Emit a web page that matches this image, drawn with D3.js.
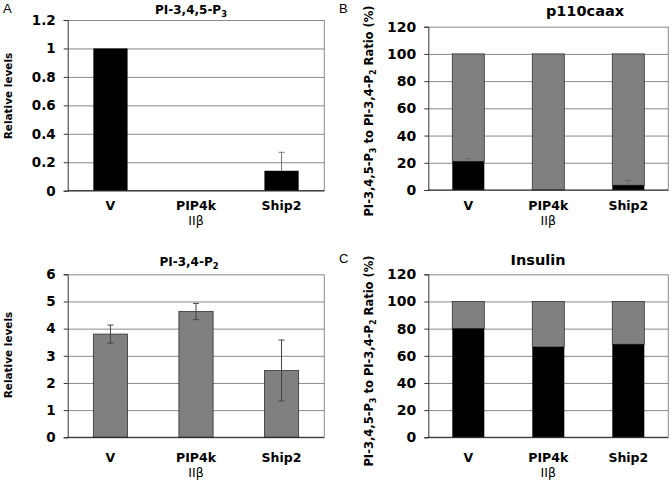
<!DOCTYPE html>
<html><head><meta charset="utf-8">
<script src="https://cdn.jsdelivr.net/npm/d3@7"></script>
<style>
body{margin:0;background:#fff;}
svg{display:block;font-family:"DejaVu Sans",sans-serif;}
</style></head>
<body><svg id="c" width="672" height="485"></svg>
<script>
const categories = ["V", "PIP4k", "Ship2"];
const categorySub = ["", "IIβ", ""];
const pip3Levels = [1.0, 0, 0.14];
const pip3Err = [0, 0, 0.13];
const pip2Levels = [3.8, 4.63, 2.46];
const pip2Err = [0.33, 0.3, 1.12];
const p110Pip3Pct = [21, 0, 3.5];
const p110Err = [2, 0, 3.5];
const insulinPip3Pct = [80, 66.5, 68.5];
const totalPct = [100, 100, 100];
const ticksLevelsA = [0, 0.2, 0.4, 0.6, 0.8, 1, 1.2];
const ticksLevelsB = [0, 1, 2, 3, 4, 5, 6];
const ticksPct = [0, 20, 40, 60, 80, 100, 120];

const svg = d3.select("#c");

function panel(o){
  const g = svg.append("g");
  const x = d3.scaleBand().domain(categories).range([o.x0, o.x1]).paddingInner(0.6).paddingOuter(0.3);
  const y = d3.scaleLinear().domain([0, o.max]).range([o.y1, o.y0]);
  g.append("g").attr("transform", `translate(${o.x0},0)`)
    .call(d3.axisLeft(y).tickValues(o.ticks).tickSize(-(o.x1 - o.x0)).tickFormat(""))
    .call(a => a.select(".domain").remove())
    .call(a => a.selectAll("line").attr("stroke", "#8a8a8a").attr("stroke-width", 1));
  g.append("line").attr("x1", o.x1).attr("x2", o.x1).attr("y1", y(o.max)).attr("y2", y(0)).attr("stroke", "#8a8a8a");
  if (o.stacked) {
    g.selectAll(".gb").data(categories).join("rect")
      .attr("x", d => x(d)).attr("width", x.bandwidth())
      .attr("y", (d, i) => y(o.total[i])).attr("height", (d, i) => y(o.values[i]) - y(o.total[i]))
      .attr("fill", "#808080").attr("stroke", "#333").attr("stroke-width", 0.8);
    g.selectAll(".bb").data(categories).join("rect")
      .attr("x", d => x(d)).attr("width", x.bandwidth())
      .attr("y", (d, i) => y(o.values[i])).attr("height", (d, i) => y(0) - y(o.values[i]))
      .attr("fill", "#000");
  } else {
    g.selectAll(".b").data(categories).join("rect")
      .attr("x", d => x(d)).attr("width", x.bandwidth())
      .attr("y", (d, i) => y(o.values[i])).attr("height", (d, i) => y(0) - y(o.values[i]))
      .attr("fill", o.fill).attr("stroke", o.fill === "#000" ? "none" : "#333").attr("stroke-width", 0.8);
  }
  if (o.err) {
    categories.forEach((c, i) => {
      const e = o.err[i]; if (!e) return;
      const cx = x(c) + x.bandwidth() / 2;
      const lo = o.both ? o.values[i] - e : o.values[i];
      const hi = o.values[i] + e;
      g.append("line").attr("x1", cx).attr("x2", cx).attr("y1", y(lo)).attr("y2", y(hi)).attr("stroke", o.errColor).attr("stroke-width", 1);
      g.append("line").attr("x1", cx - 3).attr("x2", cx + 3).attr("y1", y(hi)).attr("y2", y(hi)).attr("stroke", o.errColor);
      if (o.both) g.append("line").attr("x1", cx - 3).attr("x2", cx + 3).attr("y1", y(lo)).attr("y2", y(lo)).attr("stroke", o.errColor);
    });
  }
  g.append("g").attr("transform", `translate(${o.x0},0)`)
    .call(d3.axisLeft(y).tickValues(o.ticks).tickSize(4).tickPadding(8).tickFormat(d3.format("~g")))
    .call(a => a.select(".domain").attr("stroke", "#333"))
    .call(a => a.selectAll("line").attr("stroke", "#333"))
    .call(a => a.selectAll("text").attr("font-family", "DejaVu Sans").attr("font-weight", "bold").attr("font-size", o.tickFont).attr("fill", "#000"));
  g.append("line").attr("x1", o.x0).attr("x2", o.x1).attr("y1", y(0)).attr("y2", y(0)).attr("stroke", "#222");
  g.selectAll(".cl").data(categories).join("text")
    .attr("x", d => x(d) + x.bandwidth() / 2).attr("y", y(0) + o.catDy)
    .attr("text-anchor", "middle").attr("font-weight", "bold").attr("font-size", 12.5).text(d => d);
  g.selectAll(".cs").data(categorySub).join("text")
    .attr("x", (d, i) => x(categories[i]) + x.bandwidth() / 2).attr("y", y(0) + o.catDy + 15)
    .attr("text-anchor", "middle").attr("font-size", 12.5).text(d => d);
  const t = g.append("text").attr("x", o.tx).attr("y", o.ty).attr("text-anchor", "middle")
    .attr("font-weight", "bold").attr("font-size", o.titleFont);
  o.title.forEach(p => {
    const s = t.append("tspan").text(p[0]);
    if (p[1]) s.attr("font-size", o.titleFont * 0.7).attr("dy", 3);
    else if (p[2]) s.attr("dy", -3);
  });
  const yl = g.append("text").attr("transform", `translate(${o.lx},${o.ly}) rotate(-90)`)
    .attr("text-anchor", "middle").attr("font-weight", "bold").attr("font-size", o.labelFont);
  o.ylabel.forEach(p => {
    const s = yl.append("tspan").text(p[0]);
    if (p[1]) s.attr("font-size", o.labelFont * 0.7).attr("dy", 3);
    else if (p[2]) s.attr("dy", -3);
  });
}

const ratioLabel = [["PI-3,4,5-P"], ["3", true], [" to PI-3,4-P", false, true], ["2", true], [" Ratio (%)", false, true]];

panel({x0: 67.7, x1: 324.3, y0: 20, y1: 190.7, max: 1.2, ticks: ticksLevelsA, values: pip3Levels, err: pip3Err,
  both: false, errColor: "#777", fill: "#000", tickFont: 13.5, catDy: 19,
  title: [["PI-3,4,5-P"], ["3", true]], tx: 191, ty: 14, titleFont: 12,
  ylabel: [["Relative levels"]], lx: 12, ly: 96, labelFont: 10.5});

panel({x0: 67.7, x1: 324.3, y0: 274.3, y1: 437.3, max: 6, ticks: ticksLevelsB, values: pip2Levels, err: pip2Err,
  both: true, errColor: "#444", fill: "#808080", tickFont: 13.5, catDy: 25,
  title: [["PI-3,4-P"], ["2", true]], tx: 189, ty: 266, titleFont: 12,
  ylabel: [["Relative levels"]], lx: 12, ly: 355, labelFont: 10.5});

panel({x0: 428.3, x1: 668.3, y0: 26.7, y1: 190, max: 120, ticks: ticksPct, values: p110Pip3Pct, total: totalPct, stacked: true,
  err: p110Err, both: false, errColor: "#666", tickFont: 14, catDy: 20,
  title: [["p110caax"]], tx: 585, ty: 16, titleFont: 14.5,
  ylabel: ratioLabel, lx: 373, ly: 111, labelFont: 11.5});

panel({x0: 428.3, x1: 668.3, y0: 274.3, y1: 437.3, max: 120, ticks: ticksPct, values: insulinPip3Pct, total: totalPct, stacked: true,
  tickFont: 14, catDy: 25,
  title: [["Insulin"]], tx: 538, ty: 265, titleFont: 14.5,
  ylabel: ratioLabel, lx: 373, ly: 361, labelFont: 11.5});

const letters = [["A", 3, 13], ["B", 339, 13], ["C", 339, 263]];
svg.selectAll(".pl").data(letters).join("text")
  .attr("x", d => d[1]).attr("y", d => d[2]).attr("font-size", 13).attr("font-family", "Liberation Sans, Arial").text(d => d[0]);
</script></body></html>
